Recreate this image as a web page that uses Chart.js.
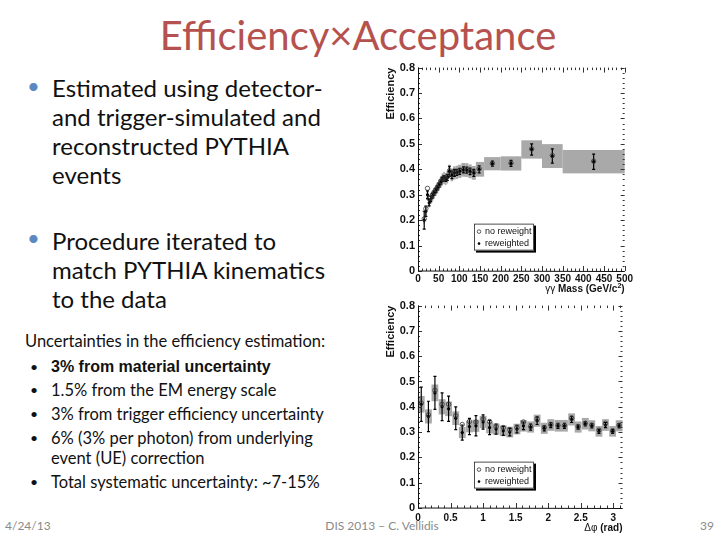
<!DOCTYPE html>
<html>
<head>
<meta charset="utf-8">
<script src="https://cdn.jsdelivr.net/npm/chart.js@4.4.1/dist/chart.umd.min.js"></script>
<style>
  html, body { margin: 0; padding: 0; background: #fff; }
  #slide { position: relative; width: 720px; height: 540px; overflow: hidden; font-family: Lato, "Open Sans", sans-serif; color: #111; }
  .abs { position: absolute; white-space: nowrap; }
  .title { left: 0; width: 716px; top: 11px; text-align: center; font-size: 40px; line-height: 48px; color: #b5524f; }
  .big { left: 52px; font-size: 24px; line-height: 29px; }
  .dot { color: #5b87c3; font-size: 22px; }
  .small { left: 51px; font-size: 16.5px; line-height: 20px; }
  .sdot { left: 30px; font-size: 14px; }
  .foot { font-size: 12px; color: #8a8a8a; top: 518px; }
  .plot { position: absolute; }
</style>
</head>
<body>
<div id="slide">
  <div class="abs title">Efficiency×Acceptance</div>

  <div class="abs dot" style="left:27px; top:72px;">•</div>
  <div class="abs big" style="top:73px;">Estimated using detector-<br>and trigger-simulated and<br>reconstructed PYTHIA<br>events</div>

  <div class="abs dot" style="left:27px; top:224px;">•</div>
  <div class="abs big" style="top:226px;">Procedure iterated to<br>match PYTHIA kinematics<br>to the data</div>

  <div class="abs" style="left:25px; top:331px; font-size:16.5px;">Uncertainties in the efficiency estimation:</div>
  <div class="abs sdot" style="top:358px;">•</div>
  <div class="abs small" style="top:357px; font-family:'Liberation Sans'; font-weight:bold; font-size:16px;">3% from material uncertainty</div>
  <div class="abs sdot" style="top:381px;">•</div>
  <div class="abs small" style="top:380px;">1.5% from the EM energy scale</div>
  <div class="abs sdot" style="top:405px;">•</div>
  <div class="abs small" style="top:404px;">3% from trigger efficiency uncertainty</div>
  <div class="abs sdot" style="top:429px;">•</div>
  <div class="abs small" style="top:428px;">6% (3% per photon) from underlying<br>event (UE) correction</div>
  <div class="abs sdot" style="top:473px;">•</div>
  <div class="abs small" style="top:472px;">Total systematic uncertainty: ~7-15%</div>

  <div class="abs foot" style="left:5px;">4/24/13</div>
  <div class="abs foot" style="left:282px; width:200px; text-align:center;">DIS 2013 – C. Vellidis</div>
  <div class="abs foot" style="left:700px;">39</div>

  <div class="plot" style="left:380px; top:58px;"><canvas id="massChart" width="255" height="242"></canvas></div>
  <div class="plot" style="left:380px; top:296px;"><canvas id="dphiChart" width="255" height="244"></canvas></div>
</div>

<script>
// Efficiency vs diphoton mass
const massX     = [15, 19, 23, 27, 31, 35, 39, 43, 47, 51, 55, 59, 63, 67, 71, 76, 82, 88, 94, 101, 110, 118, 126, 135, 148, 180, 225, 275, 325, 425];
const massLo    = [13, 17, 21, 25, 29, 33, 37, 41, 45, 49, 53, 57, 61, 65, 69, 73, 79, 85, 91, 97, 105, 114, 122, 130, 140, 160, 200, 250, 300, 350];
const massHi    = [17, 21, 25, 29, 33, 37, 41, 45, 49, 53, 57, 61, 65, 69, 73, 79, 85, 91, 97, 105, 114, 122, 130, 140, 160, 200, 250, 300, 350, 500];
const massEff   = [0.200, 0.235, 0.300, 0.268, 0.283, 0.296, 0.306, 0.316, 0.327, 0.338, 0.350, 0.360, 0.366, 0.362, 0.368, 0.392, 0.378, 0.386, 0.388, 0.392, 0.398, 0.397, 0.392, 0.386, 0.400, 0.422, 0.423, 0.478, 0.452, 0.430];
const massNoRw  = [0.205, 0.245, 0.325, 0.285, 0.290, 0.300, 0.310, 0.320, 0.330, 0.340, 0.352, 0.362, 0.368, 0.364, 0.370, 0.394, 0.380, 0.388, 0.390, 0.395, 0.400, 0.399, 0.394, 0.388, 0.402, 0.423, 0.424, 0.480, 0.454, 0.432];
const massErr   = [0.035, 0.020, 0.015, 0.012, 0.010, 0.009, 0.008, 0.008, 0.008, 0.008, 0.008, 0.008, 0.009, 0.010, 0.012, 0.020, 0.015, 0.014, 0.012, 0.012, 0.012, 0.012, 0.013, 0.014, 0.014, 0.010, 0.012, 0.022, 0.028, 0.030];
const massSys   = [0.014, 0.016, 0.020, 0.018, 0.019, 0.020, 0.021, 0.021, 0.022, 0.022, 0.023, 0.024, 0.024, 0.024, 0.024, 0.026, 0.025, 0.026, 0.026, 0.026, 0.027, 0.027, 0.027, 0.027, 0.029, 0.026, 0.028, 0.036, 0.047, 0.046];
const massTicks = [0, 50, 100, 150, 200, 250, 300, 350, 400, 450, 500];

// Efficiency vs delta phi
const dphiX     = [0.05, 0.16, 0.26, 0.37, 0.47, 0.58, 0.68, 0.79, 0.89, 1.00, 1.10, 1.20, 1.31, 1.41, 1.52, 1.62, 1.73, 1.83, 1.94, 2.04, 2.15, 2.25, 2.36, 2.46, 2.57, 2.67, 2.78, 2.88, 2.99, 3.09];
const dphiBinW  = 0.1047;
const dphiEff   = [0.410, 0.362, 0.455, 0.400, 0.392, 0.355, 0.298, 0.322, 0.325, 0.340, 0.318, 0.312, 0.305, 0.300, 0.312, 0.325, 0.320, 0.345, 0.315, 0.328, 0.325, 0.325, 0.350, 0.320, 0.333, 0.325, 0.303, 0.328, 0.303, 0.325];
const dphiNoRw  = [0.415, 0.368, 0.465, 0.410, 0.410, 0.365, 0.330, 0.342, 0.340, 0.352, 0.342, 0.322, 0.318, 0.310, 0.318, 0.340, 0.322, 0.352, 0.318, 0.330, 0.326, 0.326, 0.355, 0.322, 0.335, 0.328, 0.308, 0.335, 0.305, 0.327];
const dphiErr   = [0.068, 0.060, 0.065, 0.055, 0.050, 0.045, 0.030, 0.032, 0.040, 0.028, 0.028, 0.020, 0.018, 0.015, 0.015, 0.015, 0.012, 0.015, 0.010, 0.010, 0.010, 0.010, 0.012, 0.008, 0.008, 0.008, 0.008, 0.010, 0.008, 0.008];
const dphiSys   = [0.033, 0.028, 0.033, 0.030, 0.029, 0.027, 0.022, 0.023, 0.024, 0.024, 0.023, 0.022, 0.021, 0.021, 0.021, 0.023, 0.022, 0.024, 0.022, 0.023, 0.023, 0.023, 0.024, 0.022, 0.023, 0.022, 0.021, 0.023, 0.021, 0.022];
const dphiTicks = [0, 0.5, 1, 1.5, 2, 2.5, 3];

const effTicks  = [0, 0.1, 0.2, 0.3, 0.4, 0.5, 0.6, 0.7, 0.8];

Chart.defaults.font.family = '"Liberation Sans", Arial, sans-serif';

// ROOT-like decorations: systematic boxes, error bars, inward ticks, titles, legend
function rootPlugin(cfg) {
    return {
        id: 'root_' + cfg.name,
        beforeDatasetsDraw(chart) {
            const { ctx, scales: { x, y } } = chart;
            ctx.save();
            ctx.fillStyle = '#a9a9a9';
            for (let i = 0; i < cfg.lo.length; i++) {
                const x0 = x.getPixelForValue(cfg.lo[i]);
                const x1 = x.getPixelForValue(cfg.hi[i]);
                const y0 = y.getPixelForValue(cfg.eff[i] + cfg.sys[i]);
                const y1 = y.getPixelForValue(cfg.eff[i] - cfg.sys[i]);
                ctx.fillRect(x0, y0, x1 - x0, y1 - y0);
            }
            ctx.strokeStyle = '#000';
            ctx.lineWidth = 1.2;
            ctx.beginPath();
            for (let i = 0; i < cfg.xs.length; i++) {
                const px = x.getPixelForValue(cfg.xs[i]);
                const ya = y.getPixelForValue(cfg.eff[i] + cfg.err[i]);
                const yb = y.getPixelForValue(cfg.eff[i] - cfg.err[i]);
                ctx.moveTo(px, ya); ctx.lineTo(px, yb);
                ctx.moveTo(px - 1.5, ya); ctx.lineTo(px + 1.5, ya);
                ctx.moveTo(px - 1.5, yb); ctx.lineTo(px + 1.5, yb);
            }
            ctx.stroke();
            ctx.restore();
        },
        afterDraw(chart) {
            const { ctx, chartArea: ca, scales: { x, y } } = chart;
            ctx.save();

            // ticks on all four sides
            ctx.strokeStyle = '#333';
            ctx.lineWidth = 1;
            ctx.beginPath();
            for (let v = x.min; v <= x.max + 1e-9; v += cfg.xMinor) {
                const px = Math.round(x.getPixelForValue(v)) + 0.5;
                const major = Math.abs(v / cfg.xMajor - Math.round(v / cfg.xMajor)) < 1e-6;
                const len = major ? 5 : 2.5;
                ctx.moveTo(px, ca.bottom); ctx.lineTo(px, ca.bottom - len);
                ctx.moveTo(px, ca.top); ctx.lineTo(px, ca.top + len);
            }
            for (let v = y.min; v <= y.max + 1e-9; v += 0.02) {
                const py = Math.round(y.getPixelForValue(v)) + 0.5;
                const major = Math.abs(v / 0.1 - Math.round(v / 0.1)) < 1e-6;
                const len = major ? 4 : 2;
                ctx.moveTo(ca.left, py); ctx.lineTo(ca.left + len, py);
                ctx.moveTo(ca.right, py); ctx.lineTo(ca.right - len, py);
            }
            ctx.stroke();

            // left and bottom axis lines
            ctx.strokeStyle = '#111';
            ctx.beginPath();
            ctx.moveTo(Math.round(ca.left) + 0.5, ca.top);
            ctx.lineTo(Math.round(ca.left) + 0.5, ca.bottom);
            ctx.lineTo(ca.right, Math.round(ca.bottom) + 0.5);
            ctx.stroke();

            // y title
            ctx.fillStyle = '#111';
            ctx.save();
            ctx.translate(ca.left - 27, ca.top);
            ctx.rotate(-Math.PI / 2);
            ctx.font = 'bold 11px "Liberation Sans"';
            ctx.textAlign = 'right';
            ctx.textBaseline = 'middle';
            ctx.fillText('Efficiency', 0, 0);
            ctx.restore();

            // x title, right aligned at the axis end
            let total = 0;
            cfg.xTitle.forEach(p => { ctx.font = p.f; total += ctx.measureText(p.t).width; });
            let tx = ca.right - total;
            ctx.textAlign = 'left';
            ctx.textBaseline = 'alphabetic';
            cfg.xTitle.forEach(p => {
                ctx.font = p.f;
                ctx.fillText(p.t, tx, ca.bottom + cfg.xTitleDy + (p.dy || 0));
                tx += ctx.measureText(p.t).width;
            });

            // legend box with shadow
            const lx = ca.left + 56, ly = ca.top + 156, lw = 60, lh = 27;
            ctx.fillStyle = '#000';
            ctx.fillRect(lx + 2, ly + 2, lw, lh);
            ctx.fillStyle = '#fff';
            ctx.fillRect(lx, ly, lw, lh);
            ctx.strokeStyle = '#222';
            ctx.lineWidth = 0.8;
            ctx.strokeRect(lx + 0.5, ly + 0.5, lw - 1, lh - 1);
            ctx.strokeStyle = '#333';
            ctx.beginPath();
            ctx.arc(lx + 5, ly + 8, 1.8, 0, Math.PI * 2);
            ctx.stroke();
            ctx.fillStyle = '#000';
            ctx.beginPath();
            ctx.arc(lx + 5, ly + 20, 1.3, 0, Math.PI * 2);
            ctx.fill();
            ctx.font = '9px "Liberation Sans"';
            ctx.textBaseline = 'middle';
            ctx.fillStyle = '#111';
            ctx.fillText('no reweight', lx + 11, ly + 8);
            ctx.fillText('reweighted', lx + 11, ly + 20);
            ctx.restore();
        }
    };
}

function makeChart(canvasId, cfg) {
    const ctx = document.getElementById(canvasId).getContext('2d');
    return new Chart(ctx, {
        type: 'scatter',
        data: {
            datasets: [
                {
                    label: 'no reweight',
                    data: cfg.xs.map((v, i) => ({ x: v, y: cfg.noRw[i] })),
                    pointStyle: 'circle',
                    pointRadius: 2.2,
                    pointBorderWidth: 0.8,
                    pointBorderColor: '#333',
                    pointBackgroundColor: 'rgba(0,0,0,0)'
                },
                {
                    label: 'reweighted',
                    data: cfg.xs.map((v, i) => ({ x: v, y: cfg.eff[i] })),
                    pointStyle: 'circle',
                    pointRadius: 1.6,
                    pointBorderWidth: 0,
                    pointBackgroundColor: '#000'
                }
            ]
        },
        options: {
            responsive: false,
            animation: false,
            devicePixelRatio: 1,
            layout: { padding: { top: 9, right: cfg.padRight, left: 0, bottom: 0 } },
            plugins: { legend: { display: false }, tooltip: { enabled: false } },
            scales: {
                x: {
                    type: 'linear',
                    min: cfg.xMin,
                    max: cfg.xMax,
                    grid: { display: false, drawTicks: false },
                    border: { display: false },
                    ticks: {
                        font: { size: 10, weight: 'bold' },
                        color: '#111',
                        padding: cfg.xPad,
                        maxRotation: 0,
                        autoSkip: false,
                        callback: v => String(Math.round(v * 10) / 10)
                    },
                    afterBuildTicks: s => { s.ticks = cfg.xTicks.map(v => ({ value: v })); },
                    afterFit: s => { s.height = cfg.xAxisH; }
                },
                y: {
                    min: 0,
                    max: 0.8,
                    grid: { display: false, drawTicks: false },
                    border: { display: false },
                    ticks: {
                        font: { size: 11, weight: 'bold' },
                        color: '#111',
                        padding: 3,
                        callback: v => v === 0 ? '0' : v.toFixed(1)
                    },
                    afterBuildTicks: s => { s.ticks = effTicks.map(v => ({ value: v })); },
                    afterFit: s => { s.width = 38; }
                }
            }
        },
        plugins: [rootPlugin(cfg)]
    });
}

document.addEventListener('DOMContentLoaded', () => {
    makeChart('massChart', {
        name: 'mass',
        xs: massX, lo: massLo, hi: massHi,
        eff: massEff, noRw: massNoRw, err: massErr, sys: massSys,
        xMin: 0, xMax: 500, xTicks: massTicks, xMajor: 50, xMinor: 10,
        padRight: 10, xAxisH: 29, xPad: 2, xTitleDy: 21,
        xTitle: [
            { t: 'γγ ', f: '10px "Liberation Sans"' },
            { t: 'Mass (GeV/c', f: 'bold 10px "Liberation Sans"' },
            { t: '2', f: 'bold 7px "Liberation Sans"', dy: -4 },
            { t: ')', f: 'bold 10px "Liberation Sans"' }
        ]
    });
    makeChart('dphiChart', {
        name: 'dphi',
        xs: dphiX,
        lo: dphiX.map(v => v - dphiBinW / 2),
        hi: dphiX.map(v => v + dphiBinW / 2),
        eff: dphiEff, noRw: dphiNoRw, err: dphiErr, sys: dphiSys,
        xMin: 0, xMax: Math.PI, xTicks: dphiTicks, xMajor: 0.5, xMinor: 0.1,
        padRight: 12.5, xAxisH: 32, xPad: 4, xTitleDy: 23,
        xTitle: [
            { t: 'Δφ ', f: '10px "Liberation Sans"' },
            { t: '(rad)', f: 'bold 10px "Liberation Sans"' }
        ]
    });
});
</script>
</body>
</html>
